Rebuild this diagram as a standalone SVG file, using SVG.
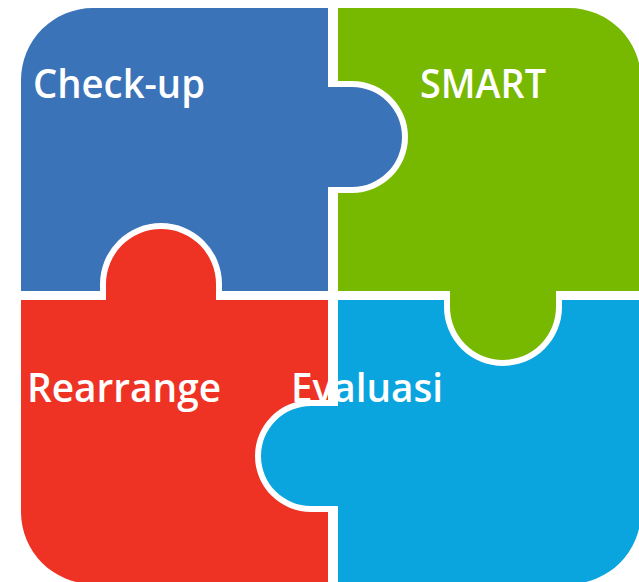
<svg xmlns="http://www.w3.org/2000/svg" width="639" height="582" viewBox="0 0 639 582">
<style>
.lbl{font-family:"Open Sans","Noto Sans","Liberation Sans",sans-serif;font-size:40px;font-weight:600;fill:#ffffff;}
</style>
<rect x="0" y="0" width="639" height="582" fill="#ffffff"/>
<g id="checkup">
<path fill="#3B73B9" d="M21,80 A72,72 0 0 1 93,8 H328 V87 H352 A50,50 0 0 1 352,187 H328 V291 H222 V284 A61,61 0 0 0 100,284 V291 H21 Z"/>
<text class="lbl" x="33" y="98" textLength="172" lengthAdjust="spacingAndGlyphs">Check-up</text>
</g>
<g id="smart">
<path fill="#77B800" d="M338,8 H569 A72,72 0 0 1 641,80 V291 H556 V307 A53,53 0 0 1 450,307 V291 H338 V193 H352 A56,56 0 0 0 352,81 H338 Z"/>
<text class="lbl" x="420" y="98" textLength="126" lengthAdjust="spacingAndGlyphs">SMART</text>
</g>
<g id="rearrange">
<path fill="#EE3224" d="M21,300 H106 V284 A55,55 0 0 1 216,284 V300 H328 V400 H311 A56,56 0 0 0 311,512 H328 V584 H93 A72,72 0 0 1 21,512 Z"/>
<text class="lbl" x="27" y="402" textLength="194" lengthAdjust="spacingAndGlyphs">Rearrange</text>
</g>
<g id="evaluasi">
<path fill="#0AA5DF" d="M338,300 H444 V307 A59,59 0 0 0 562,307 V300 H641 V512 A72,72 0 0 1 569,584 H338 V506 H311 A50,50 0 0 1 311,406 H338 Z"/>
<text class="lbl" x="291" y="402" textLength="152" lengthAdjust="spacingAndGlyphs">Evaluasi</text>
</g>
<g id="connectors"></g>
</svg>
